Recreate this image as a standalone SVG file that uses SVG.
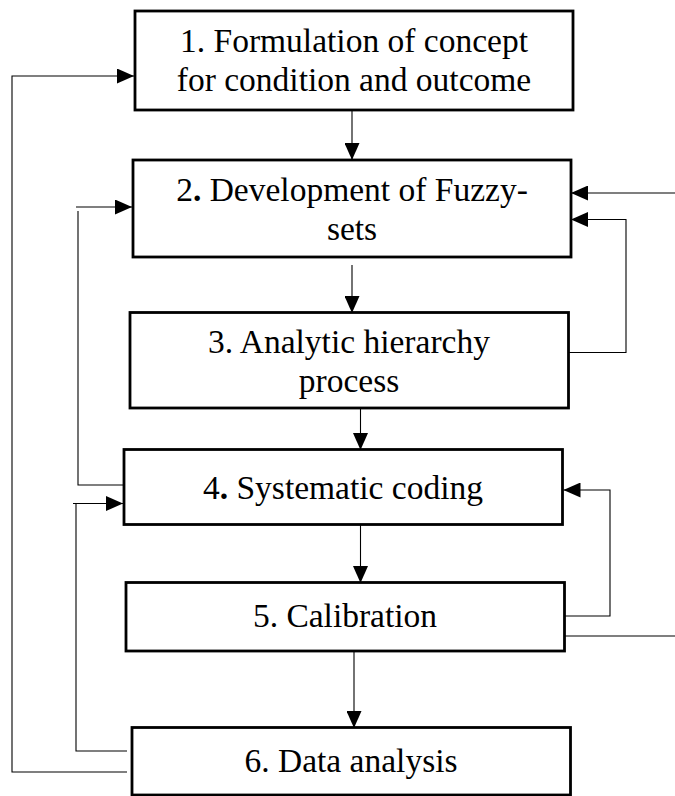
<svg xmlns="http://www.w3.org/2000/svg" width="675" height="796" viewBox="0 0 675 796">
  <defs>
    <style>
      .box { fill: #ffffff; stroke: #000000; stroke-width: 2.8; }
      .label { font-family: "Liberation Serif", "Times New Roman", serif; font-size: 33.5px; fill: #000000; text-anchor: middle; }
      .conn { fill: none; stroke: #000000; stroke-width: 1.1; }
      .arrow { marker-end: url(#head); }
    </style>
    <marker id="head" markerUnits="userSpaceOnUse" markerWidth="17" markerHeight="15" refX="17" refY="7.5" orient="auto">
      <path d="M0,0 L17,7.5 L0,15 Z" fill="#000000"/>
    </marker>
  </defs>
  <rect width="675" height="796" fill="#ffffff"/>

  <!-- connectors -->
  <g id="connectors">
    <!-- main downward flow -->
    <path class="conn arrow" d="M352,110 V160"/>
    <path class="conn arrow" d="M352,265 V313"/>
    <path class="conn arrow" d="M360.5,403 V450"/>
    <path class="conn arrow" d="M360.5,524 V583"/>
    <path class="conn arrow" d="M354,651 V728"/>

    <!-- 6 back to 1 -->
    <path class="conn arrow" d="M127,772 H12 V76 H134"/>
    <!-- 4 back to 2 -->
    <path class="conn" d="M123,485 H78 V211"/>
    <path class="conn arrow" d="M76,207 H132"/>
    <!-- 6 back to 4 -->
    <path class="conn" d="M127,751 H76 V504"/>
    <path class="conn arrow" d="M73,503.5 H123"/>

    <!-- right side loops -->
    <path class="conn arrow" d="M675,193 H571"/>
    <path class="conn arrow" d="M563,352.5 H626 V219.5 H571"/>
    <path class="conn arrow" d="M565,616 H610 V490 H563.5"/>
    <path class="conn" d="M565,636 H675"/>
  </g>

  <!-- nodes -->
  <g id="node1">
    <rect class="box" x="135" y="11" width="438" height="99"/>
    <text class="label" x="354" y="52">1. Formulation of concept</text>
    <text class="label" x="354" y="91">for condition and outcome</text>
  </g>
  <g id="node2">
    <rect class="box" x="133" y="160" width="438" height="97"/>
    <text class="label" x="352" y="201">2<tspan font-weight="bold">.</tspan> Development of Fuzzy-</text>
    <text class="label" x="352" y="240">sets</text>
  </g>
  <g id="node3">
    <rect class="box" x="130" y="312.5" width="438.5" height="95.5"/>
    <text class="label" x="349" y="353">3. Analytic hierarchy</text>
    <text class="label" x="349" y="391.5">process</text>
  </g>
  <g id="node4">
    <rect class="box" x="124" y="449.5" width="438.5" height="75"/>
    <text class="label" x="343" y="499">4<tspan font-weight="bold">.</tspan> Systematic coding</text>
  </g>
  <g id="node5">
    <rect class="box" x="126" y="582.5" width="438.5" height="68.5"/>
    <text class="label" x="345" y="627">5. Calibration</text>
  </g>
  <g id="node6">
    <rect class="box" x="132" y="727.5" width="438.5" height="67.5"/>
    <text class="label" x="351" y="772">6. Data analysis</text>
  </g>
</svg>
